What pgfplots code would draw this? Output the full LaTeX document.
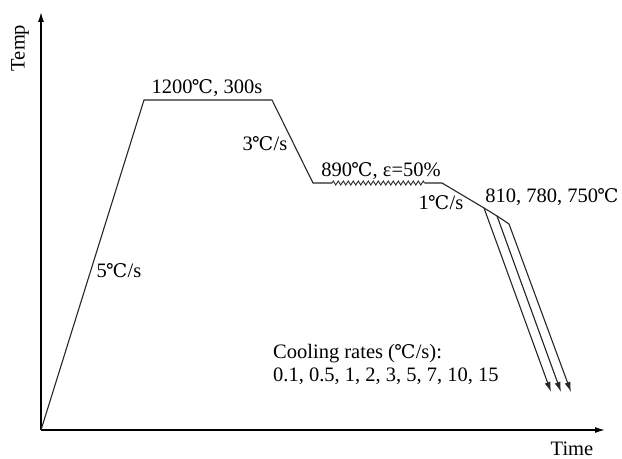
\documentclass[border=0pt]{standalone}
\usepackage{pgfplots}
\pgfplotsset{compat=1.18}
\usepackage{fontspec}
\setmainfont{Liberation Serif}
\newfontfamily\dvs[Scale=0.92]{DejaVu Serif}
\newcommand{\dc}{{\dvs\kern-0.04em ℃\kern0.02em}}
\usetikzlibrary{arrows.meta,decorations.pathmorphing}
\tikzset{lab/.style={font=\fontsize{20.5bp}{24bp}\selectfont, inner sep=0pt}}
\begin{document}
\begin{tikzpicture}
\begin{axis}[
  x=1bp, y=1bp,
  xmin=0, xmax=564, ymin=0, ymax=418,
  enlargelimits=false,
  axis lines=left,
  axis line style={line width=1.4bp, -{Latex[length=10bp,width=6bp]}},
  xtick=\empty, ytick=\empty,
  clip=false,
]
\path (axis cs:-41,-29) rectangle (axis cs:581,430);
% main schedule
\addplot[black!85, line width=1.1bp, mark=none] coordinates {
 (0,0) (103,330) (231,330) (272,247) (291,247)};
\addplot[black!85, line width=0.9bp, mark=none, decorate,
  decoration={zigzag, segment length=5bp, amplitude=2bp}] coordinates {
 (291,247) (384,247)};
\addplot[black!85, line width=1.1bp, mark=none] coordinates {
 (384,247) (401,247) (443,222) (456,214) (468,206)};
% cooling branches
\addplot[black!85, line width=1.1bp, mark=none, -{Latex[length=10bp,width=6bp]}] coordinates {(443,222) (510,38)};
\addplot[black!85, line width=1.1bp, mark=none, -{Latex[length=10bp,width=6bp]}] coordinates {(456,214) (520,38)};
\addplot[black!85, line width=1.1bp, mark=none, -{Latex[length=10bp,width=6bp]}] coordinates {(468,206) (530,38)};
% labels
\node[lab, rotate=90] at (axis cs:-21,382) {Temp};
\node[lab] at (axis cs:531,-19) {Time};
\node[lab] at (axis cs:166,342) {1200\dc, 300s};
\node[lab] at (axis cs:224,286) {3\dc/s};
\node[lab] at (axis cs:340,259) {890\dc, ε=50\%};
\node[lab] at (axis cs:400,227) {1\dc/s};
\node[lab] at (axis cs:511,233) {810, 780, 750\dc};
\node[lab] at (axis cs:78,159) {5\dc/s};
\node[lab, anchor=west] at (axis cs:232,76) {Cooling rates (\dc/s):};
\node[lab, anchor=west] at (axis cs:232,54) {0.1, 0.5, 1, 2, 3, 5, 7, 10, 15};
\end{axis}
\end{tikzpicture}
\end{document}
